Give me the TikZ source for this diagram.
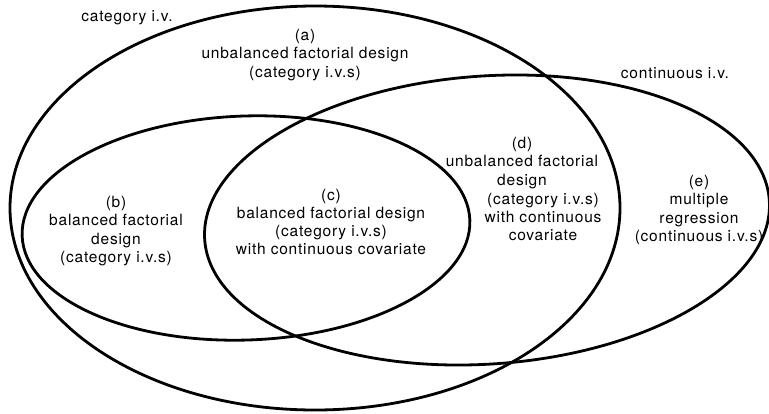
\documentclass[tikz,border=0pt]{standalone}
\usepackage{fontspec}
\setmainfont[LetterSpace=5]{TeX Gyre Heros}
\begin{document}
\begin{tikzpicture}[x=1pt,y=-1pt,
    every node/.style={font=\fontsize{15.5}{18.3}\selectfont, align=center, inner sep=0pt},
    set/.style={line width=2.8pt}]
        \useasboundingbox (0,0) rectangle (769,413);

        % the three sets
        \draw[set] (315,208) ellipse [x radius=305, y radius=202];
        \draw[set, rotate around={2:(246,228)}] (246,228) ellipse [x radius=224, y radius=112];
        \draw[set, rotate around={4:(487,220)}] (487,220) ellipse [x radius=283, y radius=144];

        \node (cativ) at(127, 18){category i.v.};
        \node (contiv) at(675, 73){continuous i.v.};

        \node (a) at(305, 55){(a)\\unbalanced factorial design\\(category i.v.s)};
        \node (b) at(116, 231){(b)\\balanced factorial\\design\\(category i.v.s)};
        \node (c) at(331, 222){(c)\\balanced factorial design\\(category i.v.s)\\with continuous covariate};
        \node (d) at(522, 163){(d)\\unbalanced factorial\\design};
        \node (dcov) at(543, 217){(category i.v.s)\\with continuous\\covariate};
        \node (e) at(699, 210){(e)\\multiple\\regression\\(continuous i.v.s)};
    \end{tikzpicture}
\end{document}
